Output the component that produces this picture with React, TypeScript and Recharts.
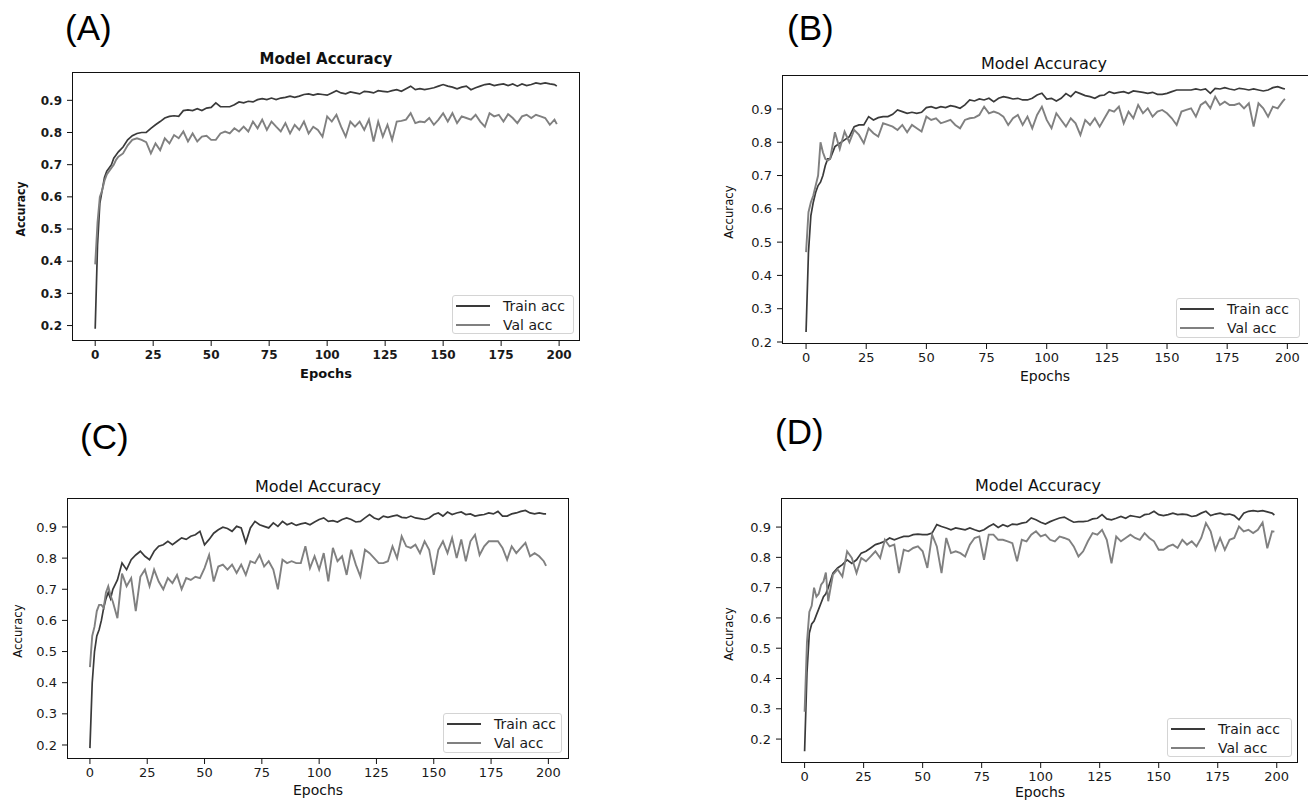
import React from 'react';
import { LineChart, Line, XAxis, YAxis, Legend } from 'recharts';

// epochs sampled from the curves (dense at the start, every 2nd epoch after)
const epochs = [
  0, 1, 2, 3, 4, 5, 6, 7, 8, 9, 10,
  12, 14, 16, 18, 20, 22, 24, 26, 28, 30,
  32, 34, 36, 38, 40, 42, 44, 46, 48, 50,
  52, 54, 56, 58, 60, 62, 64, 66, 68, 70,
  72, 74, 76, 78, 80, 82, 84, 86, 88, 90,
  92, 94, 96, 98, 100, 102, 104, 106, 108, 110,
  112, 114, 116, 118, 120, 122, 124, 126, 128, 130,
  132, 134, 136, 138, 140, 142, 144, 146, 148, 150,
  152, 154, 156, 158, 160, 162, 164, 166, 168, 170,
  172, 174, 176, 178, 180, 182, 184, 186, 188, 190,
  192, 194, 196, 198,
  199,
];

const xTicks = [0, 25, 50, 75, 100, 125, 150, 175, 200];
const yTicks = [0.2, 0.3, 0.4, 0.5, 0.6, 0.7, 0.8, 0.9];

const trainA = [
  0.19, 0.45, 0.58, 0.62, 0.66, 0.68, 0.69, 0.70, 0.72, 0.73, 0.74,
  0.755, 0.777, 0.79, 0.797, 0.80, 0.80, 0.813, 0.824, 0.834, 0.845,
  0.85, 0.852, 0.85, 0.868, 0.87, 0.868, 0.874, 0.868, 0.876, 0.878,
  0.892, 0.88, 0.88, 0.88, 0.886, 0.895, 0.892, 0.897, 0.895, 0.902,
  0.905, 0.902, 0.907, 0.902, 0.907, 0.909, 0.913, 0.909, 0.913, 0.918,
  0.92, 0.916, 0.92, 0.918, 0.916, 0.923, 0.93, 0.923, 0.92, 0.926,
  0.923, 0.92, 0.928, 0.926, 0.923, 0.93, 0.928, 0.926, 0.93, 0.933,
  0.928, 0.936, 0.944, 0.933, 0.936, 0.933, 0.936, 0.939, 0.944, 0.949,
  0.944, 0.941, 0.936, 0.941, 0.944, 0.933, 0.939, 0.944, 0.949, 0.951,
  0.946, 0.949, 0.951, 0.946, 0.951, 0.944, 0.951, 0.946, 0.949, 0.954,
  0.951, 0.954, 0.951, 0.949,
  0.944,
];
const valA = [
  0.39, 0.52, 0.60, 0.62, 0.65, 0.67, 0.68, 0.69, 0.70, 0.715, 0.725,
  0.735, 0.76, 0.777, 0.782, 0.777, 0.77, 0.735, 0.766, 0.745, 0.782,
  0.766, 0.792, 0.782, 0.803, 0.772, 0.797, 0.772, 0.787, 0.79, 0.777,
  0.777, 0.797, 0.803, 0.797, 0.813, 0.803, 0.818, 0.803, 0.834, 0.813,
  0.84, 0.808, 0.834, 0.818, 0.803, 0.829, 0.797, 0.824, 0.808, 0.834,
  0.797, 0.818, 0.808, 0.787, 0.85, 0.834, 0.855, 0.818, 0.787, 0.834,
  0.818, 0.834, 0.808, 0.84, 0.772, 0.834, 0.787, 0.824, 0.777, 0.834,
  0.836, 0.84, 0.86, 0.829, 0.834, 0.832, 0.845, 0.824, 0.84, 0.86,
  0.834, 0.86, 0.829, 0.85, 0.845, 0.84, 0.855, 0.834, 0.818, 0.86,
  0.85, 0.855, 0.834, 0.857, 0.845, 0.829, 0.85, 0.855, 0.845, 0.855,
  0.85, 0.845, 0.824, 0.84,
  0.826,
];

const trainB = [
  0.23, 0.47, 0.58, 0.62, 0.65, 0.67, 0.68, 0.70, 0.73, 0.75, 0.75,
  0.787, 0.797, 0.807, 0.817, 0.847, 0.852, 0.852, 0.877, 0.867, 0.874,
  0.877, 0.877, 0.884, 0.897, 0.892, 0.887, 0.89, 0.887, 0.89, 0.904,
  0.907, 0.902, 0.907, 0.904, 0.91, 0.907, 0.902, 0.912, 0.927, 0.924,
  0.93, 0.927, 0.932, 0.922, 0.932, 0.937, 0.934, 0.93, 0.932, 0.927,
  0.927, 0.932, 0.942, 0.947, 0.93, 0.932, 0.924, 0.932, 0.946, 0.937,
  0.952, 0.946, 0.94, 0.937, 0.932, 0.94, 0.942, 0.952, 0.947, 0.95,
  0.952, 0.947, 0.954, 0.952, 0.95, 0.947, 0.95, 0.944, 0.944, 0.947,
  0.952, 0.957, 0.957, 0.957, 0.957, 0.96, 0.957, 0.96, 0.947, 0.962,
  0.96, 0.964, 0.96, 0.957, 0.962, 0.96, 0.957, 0.96, 0.957, 0.954,
  0.957, 0.964, 0.967, 0.962,
  0.96,
];
const valB = [
  0.47, 0.59, 0.62, 0.64, 0.67, 0.70, 0.80, 0.77, 0.75, 0.745, 0.75,
  0.83, 0.78, 0.832, 0.80, 0.837, 0.822, 0.797, 0.842, 0.827, 0.817,
  0.857, 0.852, 0.847, 0.837, 0.852, 0.83, 0.852, 0.842, 0.832, 0.877,
  0.867, 0.872, 0.857, 0.862, 0.867, 0.852, 0.842, 0.867, 0.872, 0.874,
  0.882, 0.907, 0.887, 0.892, 0.887, 0.877, 0.852, 0.872, 0.882, 0.852,
  0.877, 0.842, 0.882, 0.907, 0.867, 0.842, 0.887, 0.867, 0.847, 0.872,
  0.857, 0.822, 0.867, 0.852, 0.872, 0.847, 0.872, 0.897, 0.892, 0.907,
  0.857, 0.892, 0.872, 0.912, 0.887, 0.902, 0.877, 0.892, 0.897, 0.887,
  0.872, 0.852, 0.892, 0.897, 0.902, 0.877, 0.912, 0.922, 0.902, 0.937,
  0.912, 0.922, 0.912, 0.912, 0.917, 0.902, 0.917, 0.847, 0.917, 0.902,
  0.877, 0.907, 0.902, 0.922,
  0.93,
];

const trainC = [
  0.19, 0.40, 0.50, 0.55, 0.57, 0.60, 0.64, 0.67, 0.69, 0.67, 0.70,
  0.73, 0.784, 0.763, 0.795, 0.81, 0.822, 0.806, 0.795, 0.822, 0.838,
  0.843, 0.854, 0.843, 0.854, 0.865, 0.86, 0.87, 0.875, 0.886, 0.843,
  0.86, 0.88, 0.891, 0.899, 0.895, 0.886, 0.902, 0.897, 0.85, 0.897,
  0.918, 0.907, 0.902, 0.897, 0.913, 0.902, 0.918, 0.907, 0.913, 0.905,
  0.91, 0.913, 0.907, 0.916, 0.924, 0.929, 0.918, 0.92, 0.916, 0.924,
  0.929, 0.924, 0.916, 0.918, 0.929, 0.94, 0.929, 0.924, 0.935, 0.931,
  0.935, 0.938, 0.931, 0.929, 0.935, 0.929, 0.927, 0.924, 0.929, 0.94,
  0.945, 0.935, 0.948, 0.94, 0.945, 0.948, 0.94, 0.942, 0.935, 0.938,
  0.94, 0.945, 0.942, 0.95, 0.935, 0.935, 0.942, 0.945, 0.95, 0.953,
  0.945, 0.942, 0.945, 0.942,
  0.942,
];
const valC = [
  0.45, 0.55, 0.58, 0.63, 0.65, 0.65, 0.64, 0.69, 0.71, 0.68, 0.66,
  0.607, 0.75, 0.71, 0.736, 0.63, 0.74, 0.763, 0.71, 0.763, 0.725,
  0.70, 0.736, 0.72, 0.746, 0.70, 0.736, 0.73, 0.74, 0.736, 0.768,
  0.81, 0.725, 0.773, 0.779, 0.763, 0.779, 0.752, 0.779, 0.746, 0.79,
  0.784, 0.81, 0.773, 0.79, 0.763, 0.70, 0.795, 0.784, 0.79, 0.784,
  0.784, 0.838, 0.768, 0.806, 0.763, 0.816, 0.725, 0.833, 0.79, 0.806,
  0.746, 0.827, 0.779, 0.741, 0.827, 0.816, 0.80, 0.784, 0.784, 0.79,
  0.838, 0.80, 0.87, 0.838, 0.833, 0.843, 0.816, 0.854, 0.827, 0.746,
  0.827, 0.854, 0.816, 0.865, 0.80, 0.86, 0.79, 0.854, 0.875, 0.81,
  0.838, 0.854, 0.854, 0.854, 0.833, 0.795, 0.838, 0.816, 0.833, 0.849,
  0.806, 0.816, 0.806, 0.79,
  0.775,
];

const trainD = [
  0.16, 0.42, 0.55, 0.58, 0.59, 0.61, 0.63, 0.65, 0.67, 0.68, 0.70,
  0.748, 0.765, 0.776, 0.792, 0.78, 0.792, 0.814, 0.82, 0.831, 0.842,
  0.847, 0.853, 0.864, 0.858, 0.864, 0.869, 0.869, 0.875, 0.877, 0.875,
  0.875, 0.88, 0.908, 0.902, 0.897, 0.891, 0.897, 0.894, 0.891, 0.897,
  0.891, 0.886, 0.891, 0.902, 0.91, 0.899, 0.908, 0.902, 0.91, 0.908,
  0.913, 0.916, 0.93, 0.924, 0.916, 0.91, 0.918, 0.924, 0.93, 0.933,
  0.924, 0.916, 0.918, 0.918, 0.92, 0.927, 0.929, 0.941, 0.927, 0.924,
  0.929, 0.935, 0.929, 0.938, 0.935, 0.932, 0.941, 0.943, 0.952, 0.941,
  0.938, 0.941, 0.946, 0.941, 0.943, 0.941, 0.935, 0.938, 0.946, 0.952,
  0.938, 0.943, 0.946, 0.941, 0.943, 0.938, 0.924, 0.946, 0.952, 0.954,
  0.952, 0.954, 0.95, 0.946,
  0.94,
];
const valD = [
  0.29, 0.52, 0.62, 0.64, 0.70, 0.67, 0.68, 0.71, 0.72, 0.75, 0.655,
  0.743, 0.76, 0.737, 0.82, 0.798, 0.748, 0.798, 0.787, 0.803, 0.82,
  0.798, 0.858, 0.836, 0.842, 0.748, 0.825, 0.82, 0.831, 0.836, 0.82,
  0.765, 0.875, 0.836, 0.748, 0.864, 0.814, 0.82, 0.814, 0.803, 0.842,
  0.864, 0.869, 0.792, 0.875, 0.875, 0.858, 0.858, 0.853, 0.847, 0.787,
  0.858, 0.853, 0.875, 0.886, 0.869, 0.875, 0.858, 0.853, 0.869, 0.864,
  0.858, 0.836, 0.803, 0.82, 0.853, 0.88, 0.875, 0.891, 0.858, 0.78,
  0.869, 0.853, 0.864, 0.875, 0.864, 0.858, 0.88, 0.864, 0.853, 0.825,
  0.825, 0.836, 0.842, 0.831, 0.858, 0.842, 0.853, 0.836, 0.864, 0.913,
  0.886, 0.825, 0.864, 0.825, 0.858, 0.864, 0.902, 0.886, 0.891, 0.88,
  0.891, 0.915, 0.83, 0.886,
  0.885,
];

const FONT = '"DejaVu Sans", sans-serif';
const TRAIN_COLOR = '#3a3a3a';
const VAL_COLOR = '#808080';
const PAD_L = 70;
const PAD_T = 40;
const PAD_R = 20;
const PAD_B = 50;

type Box = { x: number; y: number; w: number; h: number };

type PanelProps = {
  tag: string;
  train: number[];
  val: number[];
  frame: Box;
  yDomain: [number, number];
  bold?: boolean;
  tagPos: [number, number];
  titlePos: [number, number];
  xLabelPos: [number, number];
  yLabelPos: [number, number];
  legendBox: Box;
};

function Panel(p: PanelProps) {
  const data = epochs.map((epoch, i) => ({ epoch, train: p.train[i], val: p.val[i] }));
  const cl = p.frame.x - PAD_L;
  const ct = p.frame.y - PAD_T;
  const weight = p.bold ? 700 : 400;
  const tickStyle = { fill: '#1a1a1a', fontSize: p.bold ? 12 : 13, fontFamily: FONT, fontWeight: weight };
  const lb = p.legendBox;

  const centered = (pos: [number, number], size: number, extra: React.CSSProperties = {}) => ({
    position: 'absolute' as const,
    left: pos[0],
    top: pos[1],
    transform: 'translate(-50%, -50%)',
    fontFamily: FONT,
    fontSize: size,
    fontWeight: weight,
    color: '#111',
    whiteSpace: 'nowrap' as const,
    lineHeight: 1,
    ...extra,
  });

  return (
    <>
      <div
        style={{
          position: 'absolute',
          left: p.tagPos[0],
          top: p.tagPos[1],
          fontFamily: '"Liberation Sans", Arial, sans-serif',
          fontSize: 35,
          lineHeight: 1,
          color: '#000',
        }}
      >
        {p.tag}
      </div>
      <div style={centered(p.titlePos, p.bold ? 15 : 16)}>Model Accuracy</div>
      <div style={{ position: 'absolute', left: cl, top: ct }}>
        <LineChart
          width={p.frame.w + PAD_L + PAD_R}
          height={p.frame.h + PAD_T + PAD_B}
          data={data}
          margin={{ top: PAD_T, right: PAD_R, bottom: PAD_B - 30, left: PAD_L - 60 }}
        >
          <XAxis
            dataKey="epoch"
            type="number"
            domain={[-10, 209]}
            ticks={xTicks}
            interval={0}
            allowDataOverflow
            height={30}
            axisLine={false}
            tickLine={{ stroke: '#111' }}
            tickSize={5}
            tickMargin={4}
            tick={tickStyle}
          />
          <YAxis
            type="number"
            domain={p.yDomain}
            ticks={yTicks}
            interval={0}
            allowDataOverflow
            width={60}
            axisLine={false}
            tickLine={{ stroke: '#111' }}
            tickSize={5}
            tickMargin={5}
            tick={tickStyle}
            tickFormatter={(v: number) => v.toFixed(1)}
          />
          <Line dataKey="train" name="Train acc" stroke={TRAIN_COLOR} strokeWidth={1.7} dot={false} isAnimationActive={false} />
          <Line dataKey="val" name="Val acc" stroke={VAL_COLOR} strokeWidth={1.9} dot={false} isAnimationActive={false} />
          <Legend
            layout="horizontal"
            verticalAlign="middle"
            align="center"
            wrapperStyle={{ left: lb.x - cl, top: lb.y - ct, width: lb.w, height: lb.h }}
            content={({ payload }: any) => (
              <div
                style={{
                  boxSizing: 'border-box',
                  width: lb.w,
                  height: lb.h,
                  border: '1px solid #d4d4d4',
                  borderRadius: 3,
                  background: 'rgba(255,255,255,0.85)',
                  padding: '1px 0 0 3px',
                }}
              >
                {(payload || []).map((item: any) => (
                  <div key={item.value} style={{ display: 'flex', alignItems: 'center', height: 18.5 }}>
                    <svg width={34} height={4}>
                      <line x1={0} x2={34} y1={2} y2={2} stroke={item.color} strokeWidth={2} />
                    </svg>
                    <span style={{ marginLeft: 13, fontFamily: FONT, fontSize: 14, color: '#1a1a1a', lineHeight: '18px' }}>
                      {item.value}
                    </span>
                  </div>
                ))}
              </div>
            )}
          />
        </LineChart>
      </div>
      <div
        style={{
          position: 'absolute',
          left: p.frame.x,
          top: p.frame.y,
          width: p.frame.w,
          height: p.frame.h,
          boxSizing: 'border-box',
          border: '1px solid #111',
          pointerEvents: 'none',
        }}
      />
      <div style={centered(p.xLabelPos, p.bold ? 13 : 14)}>Epochs</div>
      <div
        style={centered(p.yLabelPos, 13, {
          transform: `translate(-50%, -50%) rotate(-90deg) scaleX(${p.bold ? 0.83 : 0.9})`,
        })}
      >
        Accuracy
      </div>
    </>
  );
}

export default function App() {
  return (
    <div
      style={{
        position: 'absolute',
        left: 0,
        top: 0,
        width: 1308,
        height: 801,
        overflow: 'hidden',
        background: '#fff',
      }}
    >
      <Panel
        tag="(A)"
        train={trainA}
        val={valA}
        bold
        frame={{ x: 72, y: 72, w: 508, h: 269 }}
        yDomain={[0.152, 0.988]}
        tagPos={[65, 10]}
        titlePos={[326, 59]}
        xLabelPos={[326, 373]}
        yLabelPos={[20, 209]}
        legendBox={{ x: 452, y: 295, w: 122, h: 39 }}
      />
      <Panel
        tag="(B)"
        train={trainB}
        val={valB}
        frame={{ x: 782, y: 75, w: 527, h: 269 }}
        yDomain={[0.194, 1.002]}
        tagPos={[787, 10]}
        titlePos={[1044, 64]}
        xLabelPos={[1045, 376]}
        yLabelPos={[728, 212]}
        legendBox={{ x: 1176, y: 298, w: 124, h: 40 }}
      />
      <Panel
        tag="(C)"
        train={trainC}
        val={valC}
        frame={{ x: 67, y: 498, w: 502, h: 261 }}
        yDomain={[0.155, 0.993]}
        tagPos={[80, 419]}
        titlePos={[318, 487]}
        xLabelPos={[318, 790]}
        yLabelPos={[17, 631]}
        legendBox={{ x: 443, y: 713, w: 119, h: 40 }}
      />
      <Panel
        tag="(D)"
        train={trainD}
        val={valD}
        frame={{ x: 781, y: 498, w: 517, h: 265 }}
        yDomain={[0.121, 0.996]}
        tagPos={[775, 414]}
        titlePos={[1038, 486]}
        xLabelPos={[1040, 792]}
        yLabelPos={[728, 634]}
        legendBox={{ x: 1167, y: 718, w: 125, h: 39 }}
      />
    </div>
  );
}
